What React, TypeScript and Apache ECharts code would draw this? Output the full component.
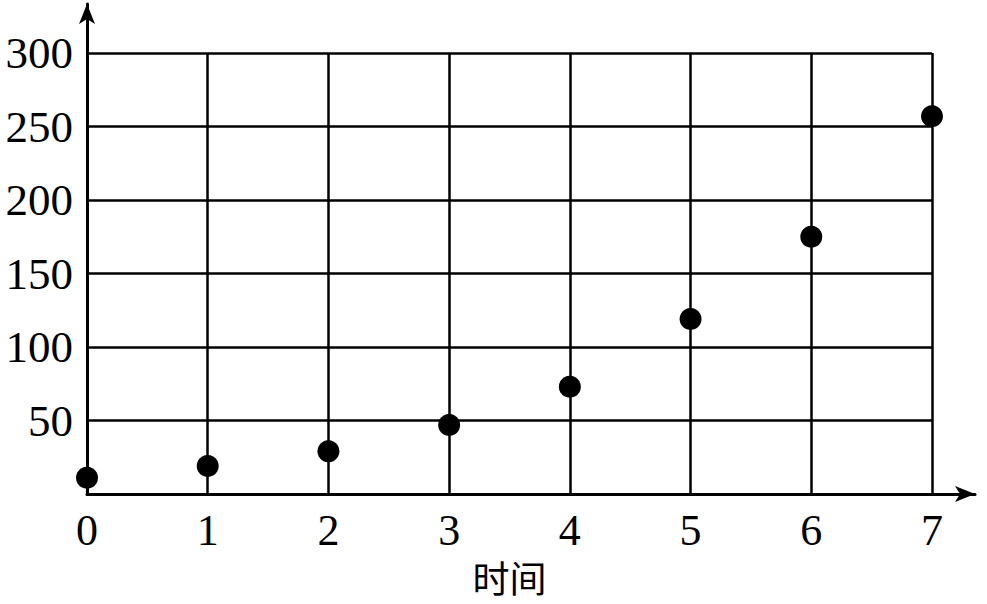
import React, { useEffect, useRef } from "react";
import * as echarts from "echarts";

const xTicks = [0, 1, 2, 3, 4, 5, 6, 7];
const yTicks = [50, 100, 150, 200, 250, 300];
const times = [0, 1, 2, 3, 4, 5, 6, 7];
const values = [11, 19, 29, 47, 73, 119, 175, 257];
const xName = "时间";

export default function App() {
  const ref = useRef<HTMLDivElement>(null);
  useEffect(() => {
    if (!ref.current) return;
    const chart = echarts.init(ref.current, undefined, { renderer: "svg" });
    const serif = "'Liberation Serif', 'Times New Roman', serif";
    const data = times.map((t, i) => [t, values[i]]);
    chart.setOption({
      animation: false,
      backgroundColor: "#ffffff",
      grid: [
        { left: 87, right: 55, top: 53, bottom: 110 },
        { left: 87, right: 12, top: 4, bottom: 110 },
      ],
      xAxis: [
        {
          type: "value",
          gridIndex: 0,
          min: xTicks[0],
          max: xTicks[xTicks.length - 1],
          interval: 1,
          name: xName,
          nameLocation: "middle",
          nameGap: 62,
          nameTextStyle: {
            fontFamily: "'Noto Sans CJK SC', sans-serif",
            fontSize: 37,
            lineHeight: 40,
            color: "#000",
          },
          axisLine: { show: false },
          axisTick: { show: false },
          axisLabel: {
            margin: 14,
            fontFamily: serif,
            fontSize: 44,
            color: "#000",
          },
          splitLine: { show: true, lineStyle: { color: "#000", width: 2.5 } },
        },
        {
          type: "value",
          gridIndex: 1,
          min: 0,
          max: 1,
          axisLine: {
            show: true,
            symbol: ["none", "arrow"],
            symbolSize: [12, 20],
            lineStyle: { color: "#000", width: 3 },
          },
          axisTick: { show: false },
          axisLabel: { show: false },
          splitLine: { show: false },
        },
      ],
      yAxis: [
        {
          type: "value",
          gridIndex: 0,
          min: 0,
          max: yTicks[yTicks.length - 1],
          interval: 50,
          axisLine: { show: false },
          axisTick: { show: false },
          axisLabel: {
            margin: 14,
            fontFamily: serif,
            fontSize: 45,
            color: "#000",
            formatter: (v: number) => (yTicks.includes(v) ? String(v) : ""),
          },
          splitLine: { show: true, lineStyle: { color: "#000", width: 2.5 } },
        },
        {
          type: "value",
          gridIndex: 1,
          min: 0,
          max: 1,
          axisLine: {
            show: true,
            symbol: ["none", "arrow"],
            symbolSize: [12, 20],
            lineStyle: { color: "#000", width: 3 },
          },
          axisTick: { show: false },
          axisLabel: { show: false },
          splitLine: { show: false },
        },
      ],
      series: [
        {
          type: "scatter",
          xAxisIndex: 0,
          yAxisIndex: 0,
          data,
          symbol: "circle",
          symbolSize: 22,
          clip: false,
          itemStyle: { color: "#000", opacity: 1 },
          z: 5,
        },
      ],
    });
    return () => chart.dispose();
  }, []);
  return (
    <div
      ref={ref}
      style={{ position: "absolute", left: 0, top: 0, width: 987, height: 604 }}
    />
  );
}
